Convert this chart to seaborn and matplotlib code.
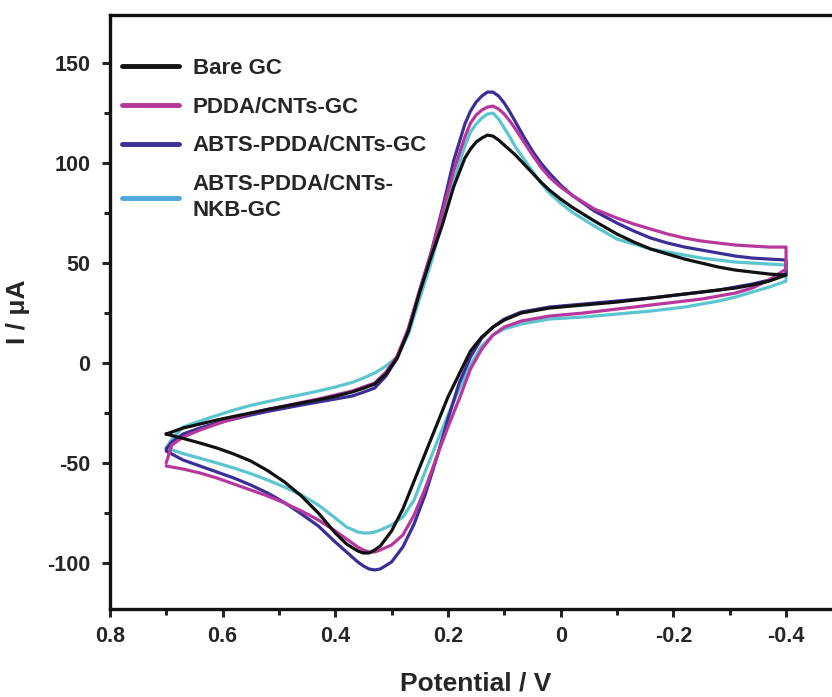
import pandas as pd
import matplotlib
matplotlib.use('Agg')
import matplotlib.pyplot as plt
import seaborn as sns
from matplotlib.ticker import MultipleLocator, FixedLocator, FixedFormatter

# Potential grids (V): forward sweep 0.7 -> -0.4, reverse sweep -0.4 -> 0.7
E_fwd = [0.70, 0.69, 0.67, 0.64, 0.61, 0.58, 0.55, 0.52, 0.49, 0.46, 0.43, 0.40,
         0.37, 0.35, 0.33, 0.31, 0.29, 0.27, 0.25, 0.23, 0.21, 0.19, 0.17, 0.16,
         0.15, 0.14, 0.13, 0.12, 0.11, 0.10, 0.09, 0.08, 0.065, 0.05, 0.035, 0.02,
         0.0, -0.02, -0.06, -0.10, -0.13, -0.16, -0.19, -0.22, -0.25, -0.28, -0.31,
         -0.34, -0.37, -0.40]
E_rev = [-0.40, -0.37, -0.34, -0.31, -0.28, -0.25, -0.22, -0.19, -0.16, -0.10, -0.04,
         0.02, 0.07, 0.10, 0.12, 0.14, 0.16, 0.18, 0.20, 0.22, 0.24, 0.26, 0.28,
         0.30, 0.32, 0.33, 0.34, 0.35, 0.36, 0.38, 0.40, 0.43, 0.46, 0.49, 0.52,
         0.55, 0.58, 0.61, 0.64, 0.67, 0.70]

# Current (uA)
bare_fwd = [-35.5, -34.5, -32.5, -30.5, -28.5, -26.7, -25, -23.2, -21.6, -20, -18.4, -16.6,
            -14.5, -12.6, -10.5, -5.5, 2.5, 16, 35.5, 53, 69, 88, 102.5, 107,
            110.5, 112.5, 114, 113.5, 111.5, 109, 106.5, 104, 99.5, 95, 90.5, 86.5,
            82, 78, 71, 64.5, 60.5, 57, 54.5, 52, 50, 48, 46.5,
            45.5, 44.5, 44]
bare_rev = [44, 41, 39, 37.5, 36.5, 35.5, 34.5, 33.5, 32.5, 30.5, 29,
            27.5, 25, 21.5, 18, 13, 6, -5.5, -17, -31, -45, -59, -73,
            -84, -91.5, -93.5, -95, -95, -94, -90.5, -85, -75, -66.5, -59.5, -53.8,
            -49, -45.5, -42.5, -40, -37.7, -35.5]

pdda_fwd = [-50, -41, -37, -33.5, -30.5, -27.7, -25.2, -23.2, -21.5, -19.7, -18, -16,
            -14, -12, -10, -4.5, 3.5, 17.5, 36.5, 55, 75, 96, 113, 120,
            124, 126.5, 128, 128.5, 127, 124.5, 121, 117, 110.5, 104, 98, 93,
            88, 84, 77, 72.5, 69.5, 67, 64.5, 62.5, 61, 60, 59,
            58.5, 58, 58]
pdda_rev = [47, 41.5, 37.5, 35, 33.5, 32, 31, 30, 29, 27, 25,
            23.5, 21, 18, 14, 7, -3, -18, -32, -47, -62.5, -76, -86,
            -91, -93.5, -94.5, -94.5, -93.5, -92, -88, -84, -78.5, -74, -70, -66.5,
            -63.5, -60.5, -57.5, -55, -53, -51.5]

abts_fwd = [-43, -39.5, -35.5, -32.5, -30, -28, -26, -24.2, -22.6, -21, -19.5, -18,
            -16.5, -14.6, -12.5, -6.5, 2.5, 17, 36.5, 55, 77, 101, 119.5, 126,
            130.5, 133.5, 135.5, 135.5, 133.5, 130, 125.5, 120.5, 113, 106, 100, 95,
            89, 84, 76, 70, 66, 62.5, 60, 58, 56.5, 55, 53.5,
            52.5, 52, 51.5]
abts_rev = [44.5, 41.5, 39.5, 38, 36.5, 35.5, 34.5, 33.5, 32.5, 31, 29.5,
            28, 25.5, 22, 18, 12.5, 3, -10, -28, -47.5, -65.5, -80.5, -92,
            -99.5, -103, -103.5, -103, -101.5, -99.5, -94.5, -89.5, -81.5, -75.5, -69.8, -65,
            -61, -57.5, -54.5, -51.5, -48.5, -44]

nkb_fwd = [-42.5, -38, -32, -29, -26.2, -23.5, -21.2, -19.3, -17.5, -15.8, -14, -12,
           -9.7, -7.5, -5, -1.5, 3, 14.5, 32.5, 50, 70, 91, 108.5, 115.5,
           119.5, 122.5, 124.5, 125, 122, 117.5, 113, 108, 102, 96, 90, 85,
           80, 75.5, 68.5, 62, 59.5, 57, 55.5, 54, 52.5, 51.5, 50.5,
           50, 49.5, 49]
nkb_rev = [41, 38, 35.5, 33, 31, 29.5, 28, 27, 26, 24.5, 23,
           22, 19.5, 17, 14, 8.5, -1, -13, -26, -40, -54, -68.5, -77,
           -81, -83.5, -84.5, -85, -85, -84.5, -82, -77.5, -71, -66, -62, -58.5,
           -55.3, -52.5, -50, -47.6, -45.3, -42.5]

labels = ['Bare GC', 'PDDA/CNTs-GC', 'ABTS-PDDA/CNTs-GC', 'ABTS-PDDA/CNTs-\nNKB-GC']
colors = ['#111111', '#B8379C', '#3B2F96', '#5CC6D0']
legend_colors = ['#111111', '#B8379C', '#3B2F96', '#4FA9DC']
curves = [(bare_fwd, bare_rev), (pdda_fwd, pdda_rev), (abts_fwd, abts_rev), (nkb_fwd, nkb_rev)]

# Tabla larga para seaborn
frames = []
for lab, (fwd, rev) in zip(labels, curves):
    E = E_fwd + E_rev
    I = fwd + rev
    frames.append(pd.DataFrame({'Potential': E, 'Current': I, 'Electrode': lab,
                                'step': range(len(E))}))
df = pd.concat(frames, ignore_index=True)

sns.set_style('ticks')
plt.rcParams['font.family'] = ['Liberation Sans', 'DejaVu Sans']
plt.rcParams['font.weight'] = 'bold'
plt.rcParams['axes.unicode_minus'] = False

fig = plt.figure(figsize=(8.32, 6.97), dpi=100)
ax = fig.add_axes([0.132, 0.1263, 0.8805, 0.852])

# Dibujar en orden inverso para que la curva negra quede arriba
for lab, col in reversed(list(zip(labels, colors))):
    sns.lineplot(data=df[df['Electrode'] == lab], x='Potential', y='Current',
                 sort=False, estimator=None, color=col, linewidth=2.3,
                 solid_joinstyle='round', label=lab, ax=ax)

ax.set_xlim(0.8, -0.5)
ax.set_ylim(-123, 174)

xt = [0.8, 0.6, 0.4, 0.2, 0.0, -0.2, -0.4]
ax.xaxis.set_major_locator(FixedLocator(xt))
ax.xaxis.set_major_formatter(FixedFormatter(['0.8', '0.6', '0.4', '0.2', '0', '-0.2', '-0.4']))
ax.xaxis.set_minor_locator(MultipleLocator(0.1))
ax.yaxis.set_major_locator(MultipleLocator(50))
ax.yaxis.set_minor_locator(MultipleLocator(25))

ax.tick_params(axis='both', which='major', direction='out', length=6, width=2.2,
               labelsize=15.5)
ax.tick_params(axis='x', which='major', pad=6)
ax.tick_params(axis='y', which='major', pad=8)
ax.tick_params(axis='both', which='minor', direction='out', length=4, width=2.2)
for t in ax.get_xticklabels() + ax.get_yticklabels():
    t.set_fontweight('bold')

for side in ['left', 'bottom', 'top', 'right']:
    ax.spines[side].set_linewidth(2.4)
    ax.spines[side].set_color('#111111')

ax.set_xlabel('Potential / V', fontsize=19, fontweight='bold', labelpad=18)
ax.set_ylabel('I / μA', fontsize=19, fontweight='bold', labelpad=12)

# Leyenda sin marco, en el orden original
handles, labs = ax.get_legend_handles_labels()
order = [labs.index(l) for l in labels]
leg = ax.legend([handles[i] for i in order], [labs[i] for i in order],
                loc='upper left', bbox_to_anchor=(0.016, 0.928), frameon=False,
                fontsize=16, handlelength=2.6, handletextpad=0.6,
                labelspacing=0.8, borderpad=0, borderaxespad=0)
for line, col in zip(leg.get_lines(), legend_colors):
    line.set_color(col)
    line.set_linewidth(3.5)
for t in leg.get_texts():
    t.set_fontweight('bold')
    t.set_linespacing(1.3)

fig.savefig('out.png', dpi=100)
